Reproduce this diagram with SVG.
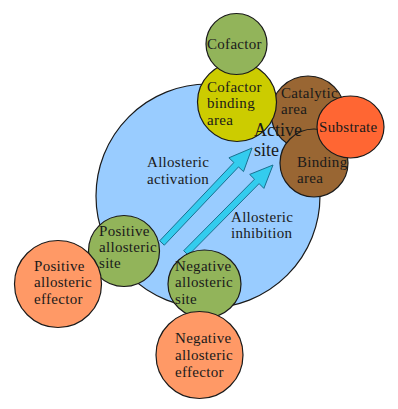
<svg xmlns="http://www.w3.org/2000/svg" width="398" height="409" viewBox="0 0 398 409">
<style>
.n{stroke:#1a1a1a;stroke-width:1.2}
.blue{fill:#99ccff}
.green{fill:#92b45a}
.yellow{fill:#cccc00}
.brown{fill:#996633}
.sub{fill:#ff6633}
.eff{fill:#ff9966}
.arrow{fill:#33ccee;stroke:#1a7090;stroke-width:1}
text{font-family:"Liberation Serif","Times New Roman",serif;font-size:15px;fill:#1a1a1a;letter-spacing:0.3px}
.big{font-size:18px;letter-spacing:0}
</style>
<rect width="398" height="409" fill="#ffffff"/>
<g id="enzyme">
<circle class="n blue" cx="208" cy="196" r="112"/>
<text x="147" y="167">Allosteric</text>
<text x="147" y="184">activation</text>
<text x="231" y="222">Allosteric</text>
<text x="231" y="238">inhibition</text>
</g>
<g id="connectors">
<polygon class="arrow" points="159.7,240.8 233.9,162.5 228.9,157.8 252,148 243.5,171.6 238.5,166.9 164.3,245.2"/>
<polygon class="arrow" points="183.7,250.7 254.5,179.2 249.7,174.4 273,165 263.9,188.4 259.1,183.6 188.3,255.3"/>
</g>
<g id="catalytic-area">
<circle class="n brown" cx="308" cy="113" r="37"/>
<text x="281" y="98">Catalytic</text>
<text x="281" y="114">area</text>
</g>
<g id="binding-area">
<circle class="n brown" cx="314" cy="163" r="34"/>
<text x="297" y="167">Binding</text>
<text x="297" y="183">area</text>
</g>
<g id="substrate">
<ellipse class="n sub" cx="350.5" cy="127" rx="33.5" ry="31"/>
<text x="319" y="132">Substrate</text>
</g>
<g id="cofactor-binding-area">
<circle class="n yellow" cx="237" cy="102" r="39.5"/>
<text x="207" y="92">Cofactor</text>
<text x="207" y="108">binding</text>
<text x="207" y="125">area</text>
</g>
<g id="cofactor">
<circle class="n green" cx="236.5" cy="44" r="30.5"/>
<text x="207" y="49">Cofactor</text>
</g>
<g id="active-site">
<text class="big" x="254" y="136">Active</text>
<text class="big" x="254" y="156">site</text>
</g>
<g id="positive-allosteric-site">
<circle class="n green" cx="124" cy="251" r="35.5"/>
<text x="99" y="236">Positive</text>
<text x="99" y="252">allosteric</text>
<text x="99" y="268">site</text>
</g>
<g id="positive-allosteric-effector">
<circle class="n eff" cx="58" cy="284" r="43.5"/>
<text x="34" y="271">Positive</text>
<text x="34" y="287">allosteric</text>
<text x="34" y="304">effector</text>
</g>
<g id="negative-allosteric-site">
<ellipse class="n green" cx="204.5" cy="284" rx="36.5" ry="34"/>
<text x="175" y="271">Negative</text>
<text x="175" y="287">allosteric</text>
<text x="175" y="304">site</text>
</g>
<g id="negative-allosteric-effector">
<circle class="n eff" cx="199.5" cy="355" r="43.5"/>
<text x="175" y="343">Negative</text>
<text x="175" y="360">allosteric</text>
<text x="175" y="377">effector</text>
</g>
</svg>
